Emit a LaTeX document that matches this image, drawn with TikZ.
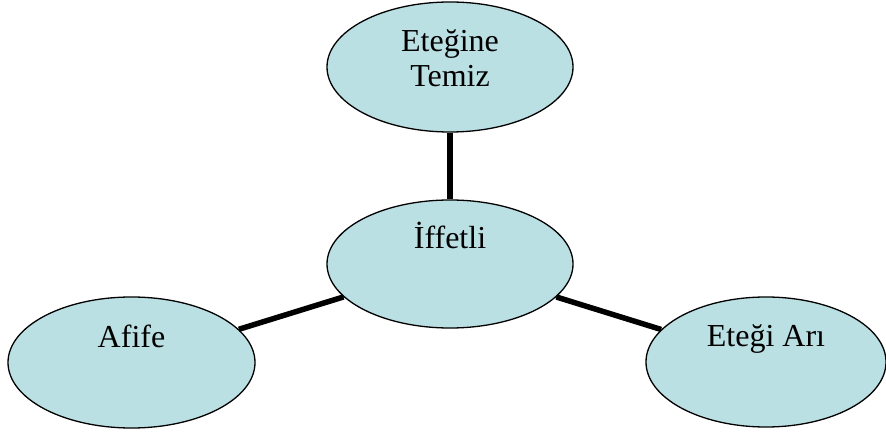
\documentclass[tikz,border=0pt]{standalone}
\usepackage{fontspec}
\setmainfont{Liberation Serif}
\usetikzlibrary{shapes.geometric}
\definecolor{bubble}{HTML}{BBE0E3}
\newcommand{\uptext}[1]{\raisebox{15pt}[0pt][0pt]{\begin{tabular}[t]{@{}c@{}}#1\end{tabular}}}
\tikzset{
  blob/.style={ellipse, draw=black, fill=bubble, line width=1.3pt, minimum width=246pt, minimum height=130pt, inner sep=0pt,
    font=\fontsize{32}{35}\selectfont},
  link/.style={draw=black, line width=5.5pt},
}
\begin{document}
\begin{tikzpicture}[x=1pt, y=-1pt]
    \useasboundingbox (0,0) rectangle (886,435);
    % ellipses
    \node[blob] (top) at (450,67) {\uptext{Eteğine\\Temiz}};
    \node[blob, minimum height=128pt] (mid) at (450,264) {\uptext{İffetli}};
    \node[blob, minimum width=247pt, minimum height=131pt] (left) at (131.5,362.5) {\uptext{Afife}};
    \node[blob, minimum width=240pt] (right) at (766,362) {\uptext{Eteği Arı}};
    % links
    \draw[link] (top) -- (mid);
    \draw[link] (mid) -- (left);
    \draw[link] (mid) -- (right);
\end{tikzpicture}
\end{document}
